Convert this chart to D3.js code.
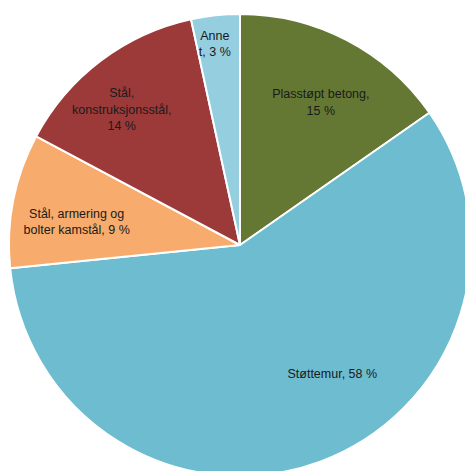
<!DOCTYPE html>
<html>
<head>
<meta charset="utf-8">
<script src="https://cdn.jsdelivr.net/npm/d3@7"></script>
<style>
  html, body { margin: 0; padding: 0; background: #fff; }
  svg { display: block; }
  .lbl { font-family: "Liberation Sans", "DejaVu Sans", sans-serif; font-size: 12.5px; fill: #1a1a1a; }
</style>
</head>
<body>
<svg id="chart" width="465" height="471"></svg>
<script>
// Slices, clockwise from 12 o'clock
const categories = ["Plasstøpt betong", "Støttemur", "Stål, armering og bolter kamstål", "Stål, konstruksjonsstål", "Annet"];
const shares = [15.3, 58.1, 9.4, 13.8, 3.4];
const shownPct = [15, 58, 9, 14, 3];
const colors = ["#647834", "#6dbcd0", "#f7ab6c", "#9c3a3a", "#94cedf"];

// label line breaks as in the original chart
const labelLines = [
  ["Plasstøpt betong,", "15 %"],
  ["Støttemur, 58 %"],
  ["Stål, armering og", "bolter kamstål, 9 %"],
  ["Stål,", "konstruksjonsstål,", "14 %"],
  ["Anne", "t, 3 %"]
];
// label placement: angle nudge (deg) and distance from centre
const labelPlace = [
  { da: 2, r: 164 },
  { da: -15.4, r: 158 },
  { da: -3, r: 165 },
  { da: -4, r: 180 },
  { da: -1, r: 203 }
];

const svg = d3.select("#chart");
const cx = 240, cy = 245, radius = 231;

const data = categories.map((c, i) => ({ name: c, value: shares[i], i }));

const pie = d3.pie()
  .value(d => d.value)
  .sort(null)
  .startAngle(0)
  .endAngle(2 * Math.PI);

const arc = d3.arc().innerRadius(0).outerRadius(radius);

const g = svg.append("g").attr("transform", `translate(${cx},${cy})`);

const arcs = pie(data);

g.selectAll("path.slice")
  .data(arcs)
  .enter()
  .append("path")
  .attr("class", "slice")
  .attr("d", arc)
  .attr("fill", d => colors[d.data.i])
  .attr("stroke", "#fff")
  .attr("stroke-width", 2)
  .attr("stroke-linejoin", "round");

// Labels
const lineH = 16.5;
arcs.forEach(d => {
  const p = labelPlace[d.data.i];
  const a = (d.startAngle + d.endAngle) / 2 + p.da * Math.PI / 180;
  const x = Math.sin(a) * p.r;
  const y = -Math.cos(a) * p.r;
  const lines = labelLines[d.data.i];
  const t = g.append("text")
    .attr("class", "lbl")
    .attr("text-anchor", "middle")
    .attr("x", x)
    .attr("y", y - (lines.length - 1) * lineH / 2);
  lines.forEach((ln, k) => {
    t.append("tspan")
      .attr("x", x)
      .attr("dy", k === 0 ? "0.35em" : lineH)
      .text(ln);
  });
});
</script>
</body>
</html>
